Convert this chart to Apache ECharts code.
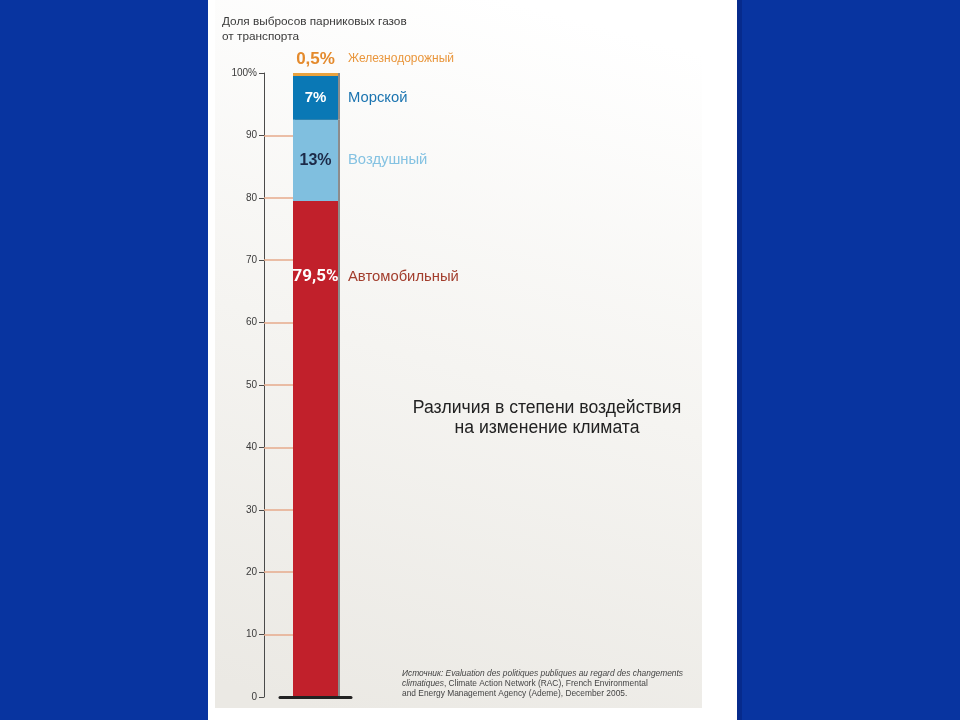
<!DOCTYPE html>
<html><head><meta charset="utf-8">
<script src="https://cdn.jsdelivr.net/npm/echarts@6/dist/echarts.min.js"></script>
<style>html,body{margin:0;padding:0;background:#0834a0;}#c{width:960px;height:720px;}</style>
</head><body><div id="c"></div>
<script>
const categories = ['Транспорт'];
const seriesNames = ['Автомобильный', 'Воздушный', 'Морской', 'Железнодорожный'];
const seriesValues = [79.5, 13, 7, 0.5];
const guideTicks = [10, 20, 30, 40, 50, 60, 70, 80, 90];
const titleLines = ['Доля выбросов парниковых газов', 'от транспорта'];
const noteLines = ['Различия в степени воздействия', 'на изменение климата'];
const sourceLines = [
  '{i|Источник: Evaluation des politiques publiques au regard des changements}',
  '{i|climatiques}{r|, Climate Action Network (RAC), French Environmental}',
  '{r|and Energy Management Agency (Ademe), December 2005.}'
];

const styles = [
  {bar: '#c1202b', val: '#ffffff', valSize: 17, valFont: '"Liberation Sans Narrow", Roboto, sans-serif', name: '#a23d2c', nameSize: 14.8, pos: [0, 76]},
  {bar: '#80bfdf', val: '#1c2a48', valSize: 16, valFont: '"Liberation Sans", Arial', name: '#84c2e2', nameSize: 14.8, pos: [0, '50%']},
  {bar: '#0a78b5', val: '#ffffff', valSize: 15, valFont: '"Liberation Sans", Arial', name: '#1a74b0', nameSize: 14.8, pos: [0, '50%']},
  {bar: '#e9a23e', val: '#e48a2c', valSize: 17, valFont: '"Liberation Sans", Arial', name: '#e9963c', nameSize: 12, pos: [0, -14]}
];
const FONT = '"Liberation Sans", Arial, sans-serif';
const fmt = v => String(v).replace('.', ',') + '%';

const chart = echarts.init(document.getElementById('c'));
const series = seriesNames.map((n, i) => {
  const s = styles[i];
  return {
    name: n, type: 'bar', stack: 'total', barWidth: 45, yAxisIndex: 0,
    data: [seriesValues[i]],
    itemStyle: {color: s.bar, shadowColor: '#8c8c8c', shadowOffsetX: 2, shadowBlur: 0},
    emphasis: {disabled: true},
    label: {
      show: true, position: s.pos, align: 'left', verticalAlign: 'middle',
      formatter: p => '{v|' + fmt(p.value) + '}{n|' + p.seriesName + '}',
      rich: {
        v: {width: 45, align: 'center', verticalAlign: 'middle', color: s.val, fontSize: s.valSize, fontWeight: 'bold', fontFamily: s.valFont, textBorderWidth: 0},
        n: {color: s.name, fontSize: s.nameSize, fontFamily: FONT, verticalAlign: 'middle', padding: [0, 0, 0, 10], textBorderWidth: 0}
      }
    }
  };
});

chart.setOption({
  backgroundColor: '#0834a0',
  animation: false,
  graphic: [
    {type: 'rect', z: -100, shape: {x: 208, y: 0, width: 529, height: 720}, style: {fill: '#ffffff'}},
    {type: 'rect', z: -100, shape: {x: 737, y: 0, width: 5, height: 720}, style: {fill: '#062a8c'}},
    {type: 'rect', z: -99, shape: {x: 215, y: 0, width: 487, height: 708},
      style: {fill: new echarts.graphic.LinearGradient(0.2, 1, 0.6, 0, [
        {offset: 0, color: '#ebe9e4'}, {offset: 0.5, color: '#f5f4f1'}, {offset: 1, color: '#ffffff'}])}},
    {type: 'text', x: 222, y: 14.5, style: {text: titleLines.join('\n'), fill: '#3a3a3a', fontSize: 11.8, fontFamily: FONT, lineHeight: 15, align: 'left', verticalAlign: 'top', textAlign: 'left', textVerticalAlign: 'top'}},
    {type: 'text', x: 547, y: 418, style: {text: noteLines.join('\n'), fill: '#222222', fontSize: 17.6, fontFamily: FONT, lineHeight: 20, align: 'center', verticalAlign: 'middle', textAlign: 'center', textVerticalAlign: 'middle'}},
    {type: 'text', x: 402, y: 669, style: {text: sourceLines.join('\n'), fill: '#444444', fontSize: 8.4, fontFamily: FONT, lineHeight: 9.7, align: 'left', verticalAlign: 'top', textAlign: 'left', textVerticalAlign: 'top',
      rich: {i: {fontStyle: 'italic', fontSize: 8.4, fontFamily: FONT, fill: '#444', lineHeight: 9.7}, r: {fontSize: 8.4, fontFamily: FONT, fill: '#444', lineHeight: 9.7}}}}
  ],
  grid: {left: 280, top: 73, width: 71, height: 624, containLabel: false},
  xAxis: {
    type: 'category', data: categories, z: 5,
    axisLine: {show: true, lineStyle: {color: '#222', width: 3}},
    axisTick: {show: false}, axisLabel: {show: false}, splitLine: {show: false}
  },
  yAxis: [
    {
      type: 'value', min: 0, max: 100, interval: 10, position: 'left', offset: 16,
      axisLine: {show: true, lineStyle: {color: '#4a4a4a', width: 1}},
      axisTick: {show: true, length: 5, lineStyle: {color: '#4a4a4a'}},
      axisLabel: {show: true, margin: 7, color: '#3a3a3a', fontSize: 10, fontFamily: FONT, formatter: v => v === 100 ? '100%' : String(v)},
      splitLine: {show: false}
    },
    {
      type: 'value', min: 0, max: 100, interval: 10, position: 'left', offset: 16,
      axisLine: {show: false},
      axisTick: {show: true, inside: true, length: 29, customValues: guideTicks, lineStyle: {color: '#e6ab8c', width: 1.5}},
      axisLabel: {show: false}, splitLine: {show: false}
    }
  ],
  series: series
});
</script></body></html>
